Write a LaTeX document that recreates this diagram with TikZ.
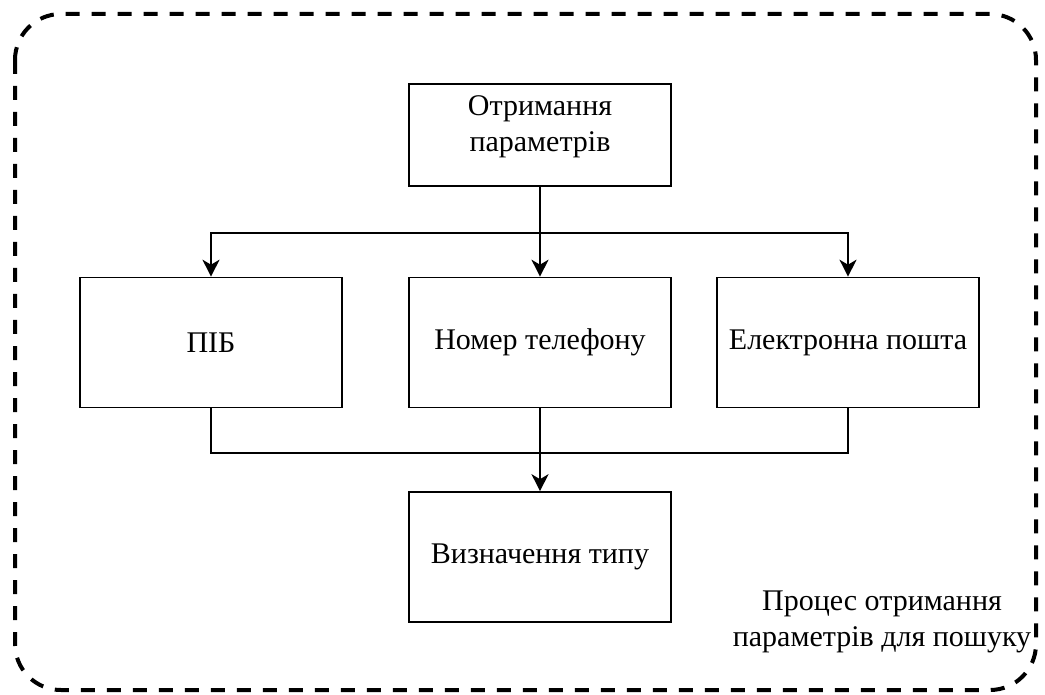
\documentclass[tikz,border=0pt]{standalone}
\usepackage{fontspec}
\setmainfont{Liberation Serif}
\usetikzlibrary{arrows.meta}
\tikzset{
  txt/.style={font=\fontsize{30}{36}\selectfont},
  box/.style={draw, line width=1.6pt, minimum width=262pt, minimum height=130pt, align=center, txt, inner sep=0pt},
  conn/.style={line width=1.6pt},
  arr/.style={conn, -{Stealth[length=17pt,width=17pt,inset=5pt]}},
  frame/.style={line width=4pt, dash pattern=on 14pt off 12pt, rounded corners=46pt}
}
\begin{document}
\begin{tikzpicture}[x=1pt,y=-1pt]
\useasboundingbox (0,0) rectangle (1045,695);
\draw[frame] (15,14) rectangle (1036,690);
\node[box, minimum height=102pt] (top) at (540,135) {};
\node[txt, align=center, inner sep=0pt] (toptext) at (540,127) {Отримання\\параметрів};
\node[box] (pib) at (211,342.5) {ПІБ};
\node[box] (tel) at (540,342.5) {Номер телефону};
\node[box] (mail) at (848,342.5) {Електронна пошта};
\node[box] (type) at (540,557) {Визначення типу};
\coordinate (split) at (540,233);
\coordinate (join) at (540,453);
\draw[arr] (top.south) -- (tel.north);
\draw[arr] (split) -| (pib.north);
\draw[arr] (split) -| (mail.north);
\draw[conn] (pib.south) |- (join);
\draw[conn] (mail.south) |- (join);
\draw[arr] (tel.south) -- (type.north);
\node[align=center, txt, inner sep=0pt] (lbl) at (882,622) {Процес отримання\\параметрів для пошуку};
\end{tikzpicture}
\end{document}
